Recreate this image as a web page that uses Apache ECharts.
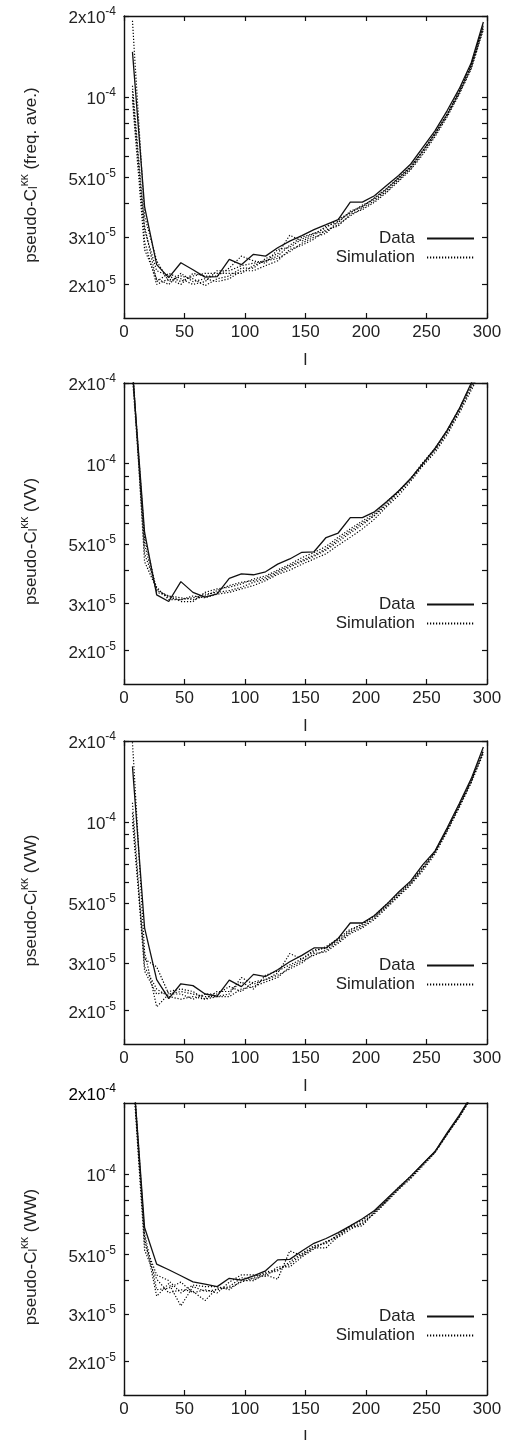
<!DOCTYPE html>
<html><head><meta charset="utf-8">
<script src="https://cdn.jsdelivr.net/npm/echarts@6/dist/echarts.min.js"></script>
<style>html,body{margin:0;padding:0;background:#fff}#c{width:510px;height:1440px}</style>
</head><body><div id="c"></div>
<script>
// multipole bin centres
const ell = [7,17,27,37,47,57,67,77,87,97,107,117,127,137,147,157,167,177,187,197,207,217,227,237,247,257,267,277,287,297];
// all spectrum values below are given in units of 1e-5
const UNIT = 1e-5;

// Panel 1: frequency average
const freqData = [14.7,3.9,2.37,2.12,2.41,2.27,2.13,2.14,2.48,2.37,2.59,2.55,2.74,2.9,3.04,3.2,3.34,3.49,4.05,4.05,4.28,4.67,5.09,5.62,6.48,7.47,8.87,10.7,13.4,19.0];
const freqSim1 = [19.2,3.6,2.45,2.05,2.15,2.1,1.98,2.1,2.15,2.3,2.3,2.5,2.6,3.05,2.9,3.05,3.3,3.4,3.75,3.9,4.2,4.55,5.0,5.5,6.3,7.3,8.6,10.4,13.0,18.5];
const freqSim2 = [10.5,2.9,2.0,2.1,2.0,2.2,2.15,2.15,2.3,2.55,2.45,2.4,2.7,2.75,2.95,3.1,3.15,3.35,3.6,3.85,4.1,4.45,4.9,5.4,6.2,7.2,8.5,10.3,12.8,18.0];
const freqSim3 = [9.7,2.7,2.1,2.0,2.2,2.05,2.1,2.05,2.1,2.25,2.25,2.35,2.45,2.7,2.8,2.95,3.2,3.3,3.65,3.8,4.05,4.4,4.85,5.35,6.1,7.1,8.4,10.2,12.7,17.8];
const freqSim4 = [10.0,3.2,2.25,2.15,2.05,2.15,2.2,2.2,2.2,2.2,2.35,2.45,2.5,2.65,2.85,3.0,3.1,3.45,3.7,3.95,4.15,4.5,4.95,5.45,6.3,7.3,8.6,10.4,13.1,18.3];
const freqSim5 = [11.0,3.3,2.05,2.2,2.1,2.0,2.05,2.25,2.25,2.35,2.4,2.45,2.55,2.8,3.0,3.1,3.25,3.5,3.7,3.9,4.2,4.55,5.0,5.5,6.3,7.3,8.6,10.5,13.2,18.6];

// Panel 2: VV
const vvData = [22,5.54,3.23,3.05,3.62,3.3,3.17,3.26,3.72,3.87,3.84,3.94,4.21,4.4,4.66,4.68,5.29,5.5,6.28,6.28,6.6,7.2,7.9,8.8,10.0,11.4,13.3,16.0,20.0,24.5];
const vvSim1 = [24,4.3,3.4,3.15,3.1,3.15,3.25,3.3,3.35,3.45,3.6,3.7,3.9,4.1,4.3,4.5,4.75,5.1,5.5,5.9,6.4,7.0,7.8,8.7,9.9,11.2,13.0,15.6,19.2,23.5];
const vvSim2 = [21,5.0,3.3,3.2,3.05,3.05,3.3,3.4,3.45,3.55,3.7,3.8,4.0,4.2,4.45,4.65,4.9,5.3,5.7,6.1,6.5,7.2,7.9,8.8,10.0,11.3,13.2,15.9,19.5,24.0];
const vvSim3 = [23,4.6,3.45,3.1,3.1,3.2,3.15,3.25,3.3,3.4,3.5,3.65,3.85,4.0,4.2,4.4,4.6,4.95,5.3,5.7,6.2,6.9,7.6,8.6,9.8,11.0,12.8,15.4,18.8,23.0];
const vvSim4 = [22.5,5.3,3.35,3.2,3.15,3.1,3.2,3.35,3.5,3.6,3.65,3.75,3.95,4.15,4.35,4.55,4.8,5.2,5.6,6.0,6.4,7.1,7.9,8.8,10.1,11.4,13.3,16.0,19.8,24.2];

// Panel 3: VW
const vwData = [16.1,4.05,2.6,2.21,2.51,2.47,2.3,2.26,2.59,2.45,2.72,2.67,2.83,3.03,3.2,3.41,3.41,3.7,4.22,4.22,4.5,4.95,5.5,6.05,6.95,7.8,9.5,11.7,14.5,19.0];
const vwSim1 = [19.8,3.3,2.06,2.3,2.35,2.3,2.25,2.25,2.3,2.65,2.5,2.6,2.75,3.25,3.1,3.3,3.45,3.7,4.0,4.15,4.5,4.95,5.45,6.0,6.8,7.8,9.4,11.5,14.3,18.5];
const vwSim2 = [11.8,2.9,2.4,2.25,2.2,2.25,2.2,2.25,2.25,2.4,2.45,2.55,2.65,2.9,3.05,3.2,3.35,3.6,3.9,4.1,4.4,4.85,5.35,5.9,6.7,7.7,9.3,11.4,14.1,18.2];
const vwSim3 = [10.0,3.1,2.9,2.3,2.3,2.2,2.3,2.3,2.45,2.35,2.55,2.6,2.7,2.85,3.0,3.25,3.3,3.55,3.85,4.05,4.35,4.8,5.3,5.85,6.6,7.6,9.2,11.3,14.0,18.0];
const vwSim4 = [10.8,2.8,2.3,2.35,2.4,2.35,2.2,2.35,2.35,2.55,2.4,2.7,2.8,2.95,3.1,3.35,3.4,3.65,3.95,4.2,4.45,4.9,5.4,5.95,6.75,7.75,9.35,11.5,14.2,18.4];

// Panel 4: WW
const wwData = [26,6.31,4.61,4.39,4.17,3.96,3.88,3.8,4.08,4.02,4.17,4.35,4.78,4.8,5.16,5.51,5.74,6.04,6.4,6.8,7.3,8.05,8.9,9.8,10.9,12.1,14.2,16.5,19.5,23.5];
const wwSim1 = [26,5.8,3.5,3.9,3.22,3.8,3.65,3.7,3.8,4.1,4.05,4.2,4.05,5.16,4.95,5.3,5.3,5.85,6.3,6.4,7.2,7.9,8.8,9.7,10.8,12.0,14.0,16.3,19.3,23.0];
const wwSim2 = [25,5.2,4.05,3.6,3.7,3.65,3.37,3.75,3.75,3.95,4.1,4.3,4.4,4.6,5.0,5.35,5.55,5.9,6.4,6.7,7.25,8.0,8.9,9.8,10.9,12.1,14.1,16.4,19.4,23.2];
const wwSim3 = [27,6.0,3.7,3.75,3.95,3.6,3.7,3.6,3.95,4.2,4.2,4.15,4.5,4.5,4.9,5.25,5.6,5.8,6.2,6.6,7.1,7.85,8.75,9.6,10.7,12.0,14.0,16.2,19.2,22.8];
const wwSim4 = [25.5,5.5,4.2,4.0,3.6,3.85,3.8,3.8,3.7,4.0,4.0,4.25,4.35,4.7,5.05,5.4,5.5,5.95,6.35,6.5,7.15,7.95,8.8,9.75,10.85,12.1,14.1,16.3,19.3,23.3];

// axis ticks / labels
const xTicks = [0,50,100,150,200,250,300];
const yTickValues = [2e-5,3e-5,4e-5,5e-5,6e-5,7e-5,8e-5,9e-5,1e-4,2e-4];
const yLabelValues = [2e-5,3e-5,5e-5,1e-4,2e-4];
const yNames = ['(freq. ave.)','(VV)','(VW)','(WW)'];
const yMaxes = [2e-4,2e-4,2e-4,1.835e-4];
const yMin = 1.5e-5;

const panels = [
  {data: freqData, sims: [freqSim1,freqSim2,freqSim3,freqSim4,freqSim5]},
  {data: vvData, sims: [vvSim1,vvSim2,vvSim3,vvSim4]},
  {data: vwData, sims: [vwSim1,vwSim2,vwSim3,vwSim4]},
  {data: wwData, sims: [wwSim1,wwSim2,wwSim3,wwSim4]}
];
const layout = [
  {top: 16, height: 302, legendTop: 225},
  {top: 383, height: 301, legendTop: 591},
  {top: 741, height: 303, legendTop: 952},
  {top: 1103, height: 292, legendTop: 1303}
];

const INK = '#111';
const TXT = '#222';
const FONT = '"Liberation Sans", Arial, Helvetica, sans-serif';
const supRich = {
  b: {fontSize: 17, fontFamily: FONT, color: TXT, verticalAlign: 'bottom', lineHeight: 22},
  sup: {fontSize: 12, fontFamily: FONT, color: TXT, verticalAlign: 'bottom', padding: [0,0,9,0]},
  sub: {fontSize: 12, fontFamily: FONT, color: TXT, verticalAlign: 'top', padding: [11,0,0,0]}
};
function fmtPow(v) {
  const e = Math.floor(Math.log10(v) + 1e-9);
  const m = Math.round(v / Math.pow(10, e));
  return (m === 1 ? '{b|10}' : '{b|' + m + 'x10}') + '{sup|' + e + '}';
}

const grid = [], xAxis = [], yAxis = [], series = [], legend = [];
panels.forEach((p, i) => {
  const L = layout[i];
  grid.push({left: 124, right: 23, top: L.top, height: L.height, outerBoundsMode: 'none', containLabel: false});
  const axisLine = {show: true, onZero: false, lineStyle: {color: INK, width: 1.4}};
  const tick = {show: true, inside: true, length: 5, lineStyle: {color: INK, width: 1.2}};
  xAxis.push({gridIndex: i, type: 'value', min: 0, max: 300, interval: 50, position: 'bottom',
    axisLine, axisTick: tick, splitLine: {show: false},
    axisLabel: {fontSize: 17, color: TXT, fontFamily: FONT, margin: 6},
    name: 'l', nameLocation: 'middle', nameGap: 34,
    nameTextStyle: {fontSize: 17, color: TXT, fontFamily: FONT}});
  xAxis.push({gridIndex: i, type: 'value', min: 0, max: 300, interval: 50, position: 'top',
    axisLine, axisTick: tick, splitLine: {show: false}, axisLabel: {show: false}});
  yAxis.push({gridIndex: i, type: 'log', logBase: 10, min: yMin, max: yMaxes[i], position: 'left',
    axisLine, axisTick: Object.assign({customValues: yTickValues}, tick), splitLine: {show: false},
    minorTick: {show: false},
    axisLabel: {customValues: yLabelValues, margin: 8, formatter: fmtPow, rich: supRich},
    name: '{b|pseudo-C}{sub|l}{sup|κκ}{b| ' + yNames[i] + '}', nameLocation: 'middle', nameGap: 84, nameRotate: 90,
    nameTextStyle: {rich: supRich, padding: [0, 16, 0, 0]}});
  yAxis.push({gridIndex: i, type: 'log', logBase: 10, min: yMin, max: yMaxes[i], position: 'right',
    axisLine, axisTick: Object.assign({customValues: yTickValues}, tick), splitLine: {show: false},
    minorTick: {show: false}, axisLabel: {show: false}});
  series.push({name: 'Data', type: 'line', xAxisIndex: 2*i, yAxisIndex: 2*i, z: 3,
    data: ell.map((l, k) => [l, p.data[k] * UNIT]), symbol: 'none', showSymbol: false, clip: true,
    lineStyle: {color: INK, width: 1.3, type: 'solid'}, itemStyle: {color: INK}});
  p.sims.forEach(s => {
    series.push({name: 'Simulation', type: 'line', xAxisIndex: 2*i, yAxisIndex: 2*i, z: 2,
      data: ell.map((l, k) => [l, s[k] * UNIT]), symbol: 'none', showSymbol: false, clip: true,
      lineStyle: {color: '#000', width: 1.2, type: [1.2, 1.8]}, itemStyle: {color: INK}});
  });
  legend.push({top: L.legendTop, right: 30, orient: 'vertical', align: 'right',
    itemWidth: 47, itemHeight: 14, itemGap: 2, selectedMode: false,
    itemStyle: {opacity: 0},
    data: ['Data', 'Simulation'],
    textStyle: {fontSize: 17, color: TXT, fontFamily: FONT, padding: [0, 7, 0, 0]}});
});

const chart = echarts.init(document.getElementById('c'), null, {renderer: 'canvas'});
chart.setOption({animation: false, backgroundColor: '#fff', textStyle: {fontFamily: FONT},
  grid, xAxis, yAxis, series, legend});

// panel 4: the 2x10^-4 label sits just above the clipped frame
const yTop = chart.convertToPixel({yAxisIndex: 6}, 2e-4);
chart.setOption({graphic: [{type: 'text', x: 116, y: yTop, style: {
  text: fmtPow(2e-4), rich: supRich, align: 'right', verticalAlign: 'middle'}}]});
</script></body></html>
